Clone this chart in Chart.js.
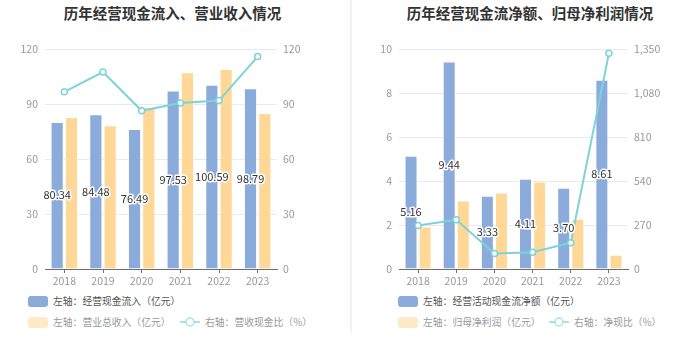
<!DOCTYPE html>
<html>
<head>
<meta charset="utf-8">
<script src="https://cdn.jsdelivr.net/npm/chart.js@4.4.0/dist/chart.umd.min.js"></script>
<style>
    body { margin: 0; width: 700px; height: 360px; background: #fff; font-family: "Noto Sans CJK SC", sans-serif; position: relative; overflow: hidden; }
    .title { position: absolute; top: 2px; font-size: 14.5px; font-weight: bold; color: #333; text-align: center; }
    .sep { position: absolute; left: 350px; top: 0; width: 2px; height: 333px; background: #f3f3f3; }
    .box { position: absolute; }
    .lg { position: absolute; font-size: 9.8px; white-space: nowrap; line-height: 12px; }
    .sw { position: absolute; width: 20px; height: 11px; border-radius: 3px; }
</style>
</head>
<body>
<div class="title" style="left:0;width:345px;">历年经营现金流入、营业收入情况</div>
<div class="title" style="left:352px;width:356px;">历年经营现金流净额、归母净利润情况</div>
<div class="sep"></div>
<div class="box" style="left:0;top:36px;width:350px;height:256px;"><canvas id="chart-left"></canvas></div>
<div class="box" style="left:352px;top:36px;width:348px;height:256px;"><canvas id="chart-right"></canvas></div>
<div id="legend"></div>
<script>
// 年份
const years = ['2018', '2019', '2020', '2021', '2022', '2023'];

// 左图：经营现金流入、营业总收入（亿元），营收现金比（%）
const cashInflow = [80.34, 84.48, 76.49, 97.53, 100.59, 98.79];
const revenue = [83.0, 78.5, 88.5, 107.5, 109.3, 85.2];
const cashRevenueRatio = [96.8, 107.6, 86.4, 90.7, 92.0, 116.0];
const leftTicks = [0, 30, 60, 90, 120];

// 右图：经营活动现金流净额、归母净利润（亿元），净现比（%）
const netCashFlow = [5.16, 9.44, 3.33, 4.11, 3.70, 8.61];
const netProfit = [1.93, 3.12, 3.48, 3.98, 2.29, 0.65];
const netCashRatio = [267, 303, 96, 103, 162, 1325];
const rightTicksL = [0, 2, 4, 6, 8, 10];
const rightTicksR = [0, 270, 540, 810, 1080, 1350];

const BLUE = 'rgb(139, 171, 219)';
const ORANGE = 'rgb(255, 216, 152)';
const TEAL = 'rgb(125, 211, 216)';
const FONT = '"Noto Sans CJK SC", sans-serif';

// 柱子中间的数值标签
const barLabelPlugin = {
    id: 'barLabel',
    afterDatasetsDraw(chart, args, opts) {
        const ctx = chart.ctx;
        const meta = chart.getDatasetMeta(1);
        const values = chart.data.datasets[1].data;
        ctx.save();
        ctx.font = '11px ' + FONT;
        ctx.textAlign = 'center';
        ctx.textBaseline = 'middle';
        ctx.lineJoin = 'round';
        meta.data.forEach((bar, i) => {
            const y = (bar.y + bar.base) / 2;
            const text = values[i].toFixed(2);
            ctx.lineWidth = 3;
            ctx.strokeStyle = '#fff';
            ctx.strokeText(text, bar.x, y);
            ctx.fillStyle = '#333';
            ctx.fillText(text, bar.x, y);
        });
        ctx.restore();
    }
};

function makeChart(id, bars1, bars2, line, ticksL, ticksR, widthL, widthR) {
    return new Chart(document.getElementById(id), {
        type: 'bar',
        data: {
            labels: years,
            datasets: [{
                type: 'line',
                data: line,
                yAxisID: 'y1',
                borderColor: TEAL,
                borderWidth: 2,
                pointRadius: 3,
                pointBackgroundColor: '#fff',
                pointBorderColor: TEAL,
                pointBorderWidth: 1.5,
                tension: 0
            }, {
                data: bars1,
                yAxisID: 'y',
                backgroundColor: BLUE,
                borderColor: 'rgba(255,255,255,0.5)',
                borderWidth: 1,
                categoryPercentage: 0.74,
                barPercentage: 0.92
            }, {
                data: bars2,
                yAxisID: 'y',
                backgroundColor: ORANGE,
                borderColor: 'rgba(255,255,255,0.5)',
                borderWidth: 1,
                categoryPercentage: 0.74,
                barPercentage: 0.92
            }]
        },
        options: {
            responsive: true,
            maintainAspectRatio: false,
            animation: false,
            layout: { padding: { top: 12 } },
            plugins: { legend: { display: false }, tooltip: { enabled: false } },
            scales: {
                x: {
                    grid: { display: true, drawOnChartArea: false, offset: false, tickLength: 4, color: '#6e6e6e' },
                    border: { display: true, color: '#6e6e6e' },
                    ticks: { color: '#999', font: { size: 10.5, family: FONT }, padding: 2 },
                    afterFit: s => { s.height = 23; }
                },
                y: {
                    position: 'left',
                    min: ticksL[0],
                    max: ticksL[ticksL.length - 1],
                    afterBuildTicks: s => { s.ticks = ticksL.map(v => ({ value: v })); },
                    grid: { color: '#e6eaf2', drawTicks: false },
                    border: { display: false },
                    ticks: { color: '#999', font: { size: 10.5, family: FONT }, padding: 7 },
                    afterFit: s => { s.width = widthL; }
                },
                y1: {
                    position: 'right',
                    min: ticksR[0],
                    max: ticksR[ticksR.length - 1],
                    afterBuildTicks: s => { s.ticks = ticksR.map(v => ({ value: v })); },
                    grid: { display: false, drawTicks: false },
                    border: { display: false },
                    ticks: {
                        color: '#999', font: { size: 10.5, family: FONT }, padding: 6,
                        callback: v => v.toLocaleString('en-US')
                    },
                    afterFit: s => { s.width = widthR; }
                }
            }
        },
        plugins: [barLabelPlugin]
    });
}

makeChart('chart-left', cashInflow, revenue, cashRevenueRatio, leftTicks, leftTicks, 45, 73);
makeChart('chart-right', netCashFlow, netProfit, netCashRatio, rightTicksL, rightTicksR, 47, 72);

// 图例
const legendItems = [
    { x: 28, y: 296, kind: 'box', color: BLUE, text: '左轴：经营现金流入（亿元）', textColor: '#555' },
    { x: 28, y: 317, kind: 'box', color: '#ffe9c8', text: '左轴：营业总收入（亿元）', textColor: '#999' },
    { x: 180, y: 317, kind: 'line', color: '#a9e3e6', text: '右轴：营收现金比（%）', textColor: '#999' },
    { x: 398, y: 296, kind: 'box', color: BLUE, text: '左轴：经营活动现金流净额（亿元）', textColor: '#555' },
    { x: 398, y: 317, kind: 'box', color: '#ffe9c8', text: '左轴：归母净利润（亿元）', textColor: '#999' },
    { x: 549, y: 317, kind: 'line', color: '#a9e3e6', text: '右轴：净现比（%）', textColor: '#999' }
];
const legend = document.getElementById('legend');
legendItems.forEach(item => {
    let html;
    if (item.kind === 'box') {
        html = `<div class="sw" style="left:${item.x}px;top:${item.y}px;background:${item.color}"></div>`;
    } else {
        html = `<svg style="position:absolute;left:${item.x}px;top:${item.y - 2}px" width="20" height="14">
            <line x1="0" y1="7" x2="20" y2="7" stroke="${item.color}" stroke-width="2"/>
            <circle cx="10" cy="7" r="4" fill="#fff" stroke="${item.color}" stroke-width="1.5"/></svg>`;
    }
    html += `<div class="lg" style="left:${item.x + 25}px;top:${item.y - 1}px;color:${item.textColor}">${item.text}</div>`;
    legend.insertAdjacentHTML('beforeend', html);
});
</script>
</body>
</html>
